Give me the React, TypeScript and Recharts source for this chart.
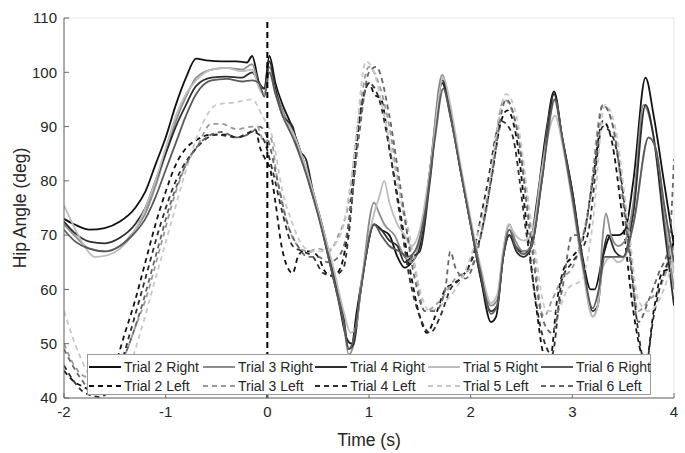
import * as React from "react";
import { CartesianGrid, Line, LineChart, ReferenceLine, XAxis, YAxis } from "recharts";

type Pt = [number, number];

const X_TICKS = [-2, -1, 0, 1, 2, 3, 4];
const Y_TICKS = [40, 50, 60, 70, 80, 90, 100, 110];

// [time (s), hip angle (deg)]
const trial2Right: Pt[] = [
  [-2, 73], [-1.9, 72], [-1.75, 71], [-1.6, 71.3], [-1.45, 72.5], [-1.3, 75], [-1.2, 78], [-1.1, 83], [-1.0, 88],
  [-0.9, 94], [-0.8, 99], [-0.7, 102.5], [-0.6, 102.2], [-0.45, 102], [-0.3, 102], [-0.2, 101.8], [-0.15, 103],
  [-0.08, 98], [-0.03, 97], [0.02, 103], [0.08, 98], [0.15, 94], [0.22, 91], [0.28, 88], [0.35, 84], [0.42, 79],
  [0.5, 74], [0.6, 66], [0.7, 58], [0.78, 51], [0.83, 50], [0.88, 56], [0.95, 64], [1.05, 72], [1.12, 71], [1.2, 70],
  [1.28, 66], [1.35, 64], [1.42, 65], [1.5, 68], [1.6, 82], [1.72, 98], [1.8, 92], [1.9, 82], [2.0, 72], [2.1, 62],
  [2.2, 54], [2.25, 55], [2.32, 66], [2.38, 70], [2.44, 68], [2.5, 67], [2.57, 67], [2.65, 76], [2.75, 90],
  [2.82, 96.5], [2.9, 88], [3.0, 78], [3.1, 66], [3.18, 60], [3.22, 60], [3.3, 66], [3.38, 70], [3.45, 70],
  [3.52, 71], [3.6, 80], [3.72, 99], [3.8, 92], [3.9, 80], [4.0, 68],
];
const trial3Right: Pt[] = [
  [-2, 72], [-1.9, 70], [-1.75, 67.5], [-1.6, 67], [-1.45, 68], [-1.3, 71], [-1.2, 74], [-1.1, 79], [-1.0, 85],
  [-0.9, 91], [-0.8, 95.5], [-0.7, 99], [-0.55, 100.5], [-0.4, 100.8], [-0.25, 100.5], [-0.15, 101.5], [-0.08, 97.5],
  [-0.03, 96], [0.02, 101], [0.08, 97], [0.15, 93], [0.25, 89], [0.35, 84], [0.45, 78], [0.55, 71], [0.65, 63],
  [0.75, 54], [0.8, 48], [0.85, 50], [0.92, 60], [1.05, 76], [1.1, 74], [1.15, 72], [1.25, 70], [1.35, 66],
  [1.42, 65], [1.5, 69], [1.6, 82], [1.72, 99.5], [1.8, 93], [1.9, 82], [2.0, 72], [2.1, 63], [2.2, 57], [2.26, 58],
  [2.32, 67], [2.38, 72], [2.44, 69], [2.52, 67], [2.6, 68], [2.7, 82], [2.82, 95], [2.9, 88], [3.0, 77], [3.1, 65],
  [3.2, 55], [3.25, 57], [3.3, 70], [3.33, 74], [3.38, 70], [3.45, 68], [3.52, 69], [3.6, 76], [3.7, 94], [3.78, 90],
  [3.9, 74], [4.0, 60],
];
const trial4Right: Pt[] = [
  [-2, 72.5], [-1.9, 70.5], [-1.75, 68.8], [-1.6, 68.5], [-1.45, 69.5], [-1.3, 72], [-1.2, 75], [-1.1, 80], [-1.0, 85],
  [-0.9, 90], [-0.8, 94], [-0.7, 97.5], [-0.55, 99], [-0.4, 99.2], [-0.25, 99], [-0.15, 100], [-0.08, 98], [-0.03, 97],
  [0.02, 102], [0.08, 97], [0.15, 92], [0.25, 90], [0.3, 86], [0.38, 84], [0.45, 78], [0.55, 71], [0.65, 63],
  [0.75, 55], [0.8, 49], [0.85, 50], [0.92, 60], [1.05, 72], [1.12, 71], [1.2, 69], [1.28, 68], [1.35, 65],
  [1.42, 66], [1.5, 67], [1.6, 80], [1.72, 98.5], [1.8, 93], [1.9, 82], [2.0, 72], [2.1, 62], [2.2, 56], [2.26, 57],
  [2.32, 66], [2.38, 70], [2.45, 67], [2.52, 66], [2.6, 68], [2.7, 80], [2.82, 96], [2.9, 88], [3.0, 78], [3.1, 65],
  [3.2, 56], [3.25, 57], [3.3, 66], [3.35, 70], [3.42, 67], [3.5, 66], [3.6, 74], [3.72, 94], [3.8, 88], [3.9, 72],
  [4.0, 57],
];
const trial5Right: Pt[] = [
  [-2, 75.5], [-1.9, 71.5], [-1.8, 68], [-1.7, 66], [-1.6, 66.2], [-1.45, 67.5], [-1.3, 71], [-1.2, 75], [-1.1, 80],
  [-1.0, 86], [-0.9, 92], [-0.8, 96], [-0.7, 98.5], [-0.55, 100.5], [-0.4, 100.8], [-0.25, 100.2], [-0.15, 100.5],
  [-0.08, 97], [-0.03, 96], [0.02, 100], [0.08, 96], [0.15, 92], [0.25, 89], [0.35, 84], [0.45, 78], [0.55, 71],
  [0.65, 64], [0.75, 56], [0.82, 52], [0.87, 53], [0.93, 62], [1.05, 74], [1.1, 77], [1.15, 80], [1.2, 76], [1.28, 72],
  [1.35, 70], [1.42, 68], [1.5, 71], [1.6, 82], [1.73, 99], [1.8, 94], [1.9, 83], [2.0, 73], [2.1, 64], [2.2, 57.5],
  [2.26, 59], [2.32, 67], [2.37, 72], [2.44, 70], [2.52, 69], [2.6, 70], [2.7, 82], [2.83, 92], [2.9, 87], [3.0, 76],
  [3.1, 64], [3.2, 55], [3.25, 57], [3.3, 64], [3.38, 66], [3.45, 65], [3.52, 66], [3.62, 74], [3.75, 88], [3.82, 86],
  [3.9, 76], [4.0, 63],
];
const trial6Right: Pt[] = [
  [-2, 71], [-1.9, 69], [-1.75, 67.5], [-1.6, 67], [-1.45, 68], [-1.3, 70.5], [-1.2, 73], [-1.1, 77], [-1.0, 82],
  [-0.9, 87], [-0.8, 92], [-0.7, 96], [-0.55, 98.5], [-0.4, 98.8], [-0.25, 98.3], [-0.15, 98.5], [-0.08, 98],
  [-0.03, 95.5], [0.02, 100], [0.08, 96], [0.15, 92], [0.25, 88], [0.35, 83], [0.45, 77], [0.55, 70], [0.65, 62],
  [0.75, 54], [0.8, 49], [0.85, 51], [0.92, 60], [1.05, 72], [1.12, 70], [1.2, 68], [1.3, 67], [1.38, 66], [1.45, 67],
  [1.55, 74], [1.65, 88], [1.73, 97], [1.8, 92], [1.9, 82], [2.0, 72], [2.1, 63], [2.2, 55.5], [2.26, 57], [2.32, 66],
  [2.38, 71], [2.44, 68], [2.52, 66.5], [2.6, 68], [2.7, 80], [2.83, 95], [2.9, 88], [3.0, 77], [3.1, 65], [3.2, 56.5],
  [3.26, 60], [3.32, 66], [3.4, 66], [3.5, 66], [3.6, 72], [3.75, 88], [3.82, 86], [3.9, 76], [4.0, 65],
];

const trial2Left: Pt[] = [
  [-2, 45], [-1.9, 43], [-1.8, 42], [-1.7, 41], [-1.6, 42.5], [-1.5, 46], [-1.4, 52], [-1.3, 58], [-1.2, 65], [-1.1, 72],
  [-1.0, 78], [-0.9, 83], [-0.8, 86], [-0.7, 87.5], [-0.55, 88.5], [-0.4, 88.5], [-0.3, 88], [-0.2, 88.5], [-0.12, 89.5],
  [-0.07, 86], [-0.02, 84], [0.03, 82], [0.08, 76], [0.14, 68], [0.2, 64], [0.25, 63], [0.3, 66], [0.35, 67], [0.42, 67],
  [0.5, 66], [0.58, 63], [0.65, 62.5], [0.72, 64], [0.8, 72], [0.88, 88], [0.95, 96], [1.0, 98], [1.05, 96], [1.12, 95],
  [1.2, 86], [1.3, 75], [1.4, 64], [1.5, 55], [1.57, 52], [1.65, 55], [1.75, 60], [1.82, 61], [1.9, 62], [2.0, 65],
  [2.1, 70], [2.2, 80], [2.3, 91], [2.36, 93], [2.45, 88], [2.55, 72], [2.65, 56], [2.72, 48], [2.78, 47], [2.85, 58],
  [2.92, 64], [3.0, 66], [3.1, 69], [3.2, 80], [3.3, 91], [3.38, 88], [3.5, 72], [3.6, 56], [3.68, 48], [3.72, 46],
  [3.8, 56], [3.88, 63], [3.95, 64], [4.0, 70],
];
const trial3Left: Pt[] = [
  [-2, 50], [-1.9, 46], [-1.8, 44], [-1.65, 43.5], [-1.5, 45], [-1.4, 48], [-1.3, 53], [-1.2, 58], [-1.05, 68],
  [-0.9, 78], [-0.8, 83], [-0.7, 86], [-0.55, 90.5], [-0.45, 90.5], [-0.3, 89.5], [-0.15, 90], [-0.1, 90], [-0.03, 87],
  [0.03, 88], [0.1, 80], [0.2, 72], [0.3, 68], [0.4, 67], [0.5, 67.5], [0.6, 67], [0.7, 70], [0.8, 76], [0.9, 92],
  [1.0, 101], [1.05, 100], [1.2, 90], [1.3, 78], [1.45, 64], [1.55, 56], [1.7, 58], [1.85, 62], [2.0, 64], [2.15, 74],
  [2.33, 95], [2.45, 90], [2.6, 70], [2.72, 55], [2.8, 58], [2.9, 62], [3.0, 64], [3.15, 74], [3.3, 94], [3.4, 90],
  [3.55, 70], [3.65, 56], [3.75, 58], [3.85, 60], [4.0, 68],
];
const trial4Left: Pt[] = [
  [-2, 46], [-1.9, 43], [-1.8, 41], [-1.65, 40.2], [-1.5, 43], [-1.35, 52], [-1.2, 62], [-1.05, 72], [-0.9, 80],
  [-0.7, 86], [-0.5, 88.5], [-0.3, 88], [-0.15, 89], [-0.05, 88], [0.05, 82], [0.15, 74], [0.25, 68], [0.35, 67],
  [0.45, 66], [0.55, 63], [0.65, 62.5], [0.75, 64], [0.8, 70], [0.9, 90], [1.0, 98], [1.1, 95], [1.2, 86], [1.3, 74],
  [1.4, 62], [1.5, 55], [1.6, 52], [1.7, 55], [1.8, 60], [1.9, 62], [2.0, 65], [2.15, 78], [2.3, 91], [2.4, 89],
  [2.55, 70], [2.7, 52], [2.8, 48], [2.9, 62], [3.0, 65], [3.15, 70], [3.3, 90], [3.4, 88], [3.55, 70], [3.65, 52],
  [3.72, 46], [3.8, 55], [3.9, 63], [4.0, 67],
];
const trial5Left: Pt[] = [
  [-2, 56], [-1.85, 48], [-1.7, 43], [-1.55, 42], [-1.4, 44], [-1.25, 52], [-1.1, 62], [-0.95, 72], [-0.8, 82],
  [-0.65, 90], [-0.5, 94], [-0.3, 94.5], [-0.15, 95], [-0.05, 92], [0.05, 88], [0.15, 78], [0.25, 72], [0.35, 68],
  [0.45, 67], [0.55, 67], [0.65, 68], [0.75, 72], [0.85, 84], [0.97, 102], [1.05, 100], [1.15, 92], [1.3, 78],
  [1.4, 70], [1.5, 60], [1.6, 56], [1.7, 57], [1.85, 60], [2.0, 66], [2.15, 76], [2.35, 96], [2.45, 92], [2.6, 72],
  [2.75, 56], [2.85, 56], [2.95, 60], [3.1, 62], [3.2, 72], [3.32, 94], [3.42, 90], [3.55, 72], [3.65, 58], [3.75, 56],
  [3.9, 60], [4.0, 66],
];
const trial6Left: Pt[] = [
  [-2, 49], [-1.85, 44], [-1.7, 41], [-1.55, 43], [-1.4, 48], [-1.25, 56], [-1.1, 66], [-0.95, 76], [-0.8, 83],
  [-0.6, 88], [-0.45, 89], [-0.3, 88], [-0.15, 89], [-0.08, 90], [0, 88], [0.1, 80], [0.2, 72], [0.3, 68], [0.4, 66],
  [0.5, 66], [0.6, 65], [0.7, 66], [0.8, 72], [0.9, 88], [1.0, 100], [1.07, 101], [1.2, 92], [1.3, 80], [1.45, 62],
  [1.55, 56], [1.65, 56], [1.75, 60], [1.8, 67], [1.85, 64], [1.95, 62], [2.05, 66], [2.2, 80], [2.35, 95], [2.45, 90],
  [2.6, 68], [2.7, 55], [2.8, 52], [2.9, 60], [3.0, 70], [3.1, 70], [3.2, 80], [3.3, 94], [3.4, 90], [3.55, 68],
  [3.65, 54], [3.75, 58], [3.85, 63], [3.95, 68], [4.0, 84],
];

const SERIES = [
  { name: "Trial 2 Right", pts: trial2Right, color: "#111111", dashed: false },
  { name: "Trial 2 Left", pts: trial2Left, color: "#111111", dashed: true },
  { name: "Trial 3 Right", pts: trial3Right, color: "#8c8c8c", dashed: false },
  { name: "Trial 3 Left", pts: trial3Left, color: "#9a9a9a", dashed: true },
  { name: "Trial 4 Right", pts: trial4Right, color: "#2e2e2e", dashed: false },
  { name: "Trial 4 Left", pts: trial4Left, color: "#2e2e2e", dashed: true },
  { name: "Trial 5 Right", pts: trial5Right, color: "#bdbdbd", dashed: false },
  { name: "Trial 5 Left", pts: trial5Left, color: "#c8c8c8", dashed: true },
  { name: "Trial 6 Right", pts: trial6Right, color: "#5a5a5a", dashed: false },
  { name: "Trial 6 Left", pts: trial6Left, color: "#666666", dashed: true },
];

const FONT = "'Liberation Sans', Arial, Helvetica, sans-serif";
const TXT = "#262626";
const FRAME = "#666";
const DASH = "5 4";
const noLabel = () => <g />;

function LegendBox() {
  // 5 columns x 2 rows, right trials on top, left trials below
  const cols = [0, 1, 2, 3, 4];
  const colX = [88, 202, 314, 427, 540];
  return (
    <div
      style={{
        position: "absolute", left: 87, top: 354, width: 564, height: 41,
        background: "#fff", border: "1px solid #9a9a9a", boxSizing: "border-box",
        fontFamily: FONT, fontSize: 14, color: TXT,
      }}
    >
      {cols.map((c) =>
        [0, 1].map((r) => {
          const s = SERIES[c * 2 + r];
          return (
            <div
              key={s.name}
              style={{ position: "absolute", left: colX[c] - 88, top: 3 + r * 19, height: 18, display: "flex", alignItems: "center", whiteSpace: "nowrap" }}
            >
              <svg width={34} height={6} style={{ marginRight: 2 }}>
                <line x1={1} y1={3} x2={33} y2={3} stroke={s.color} strokeWidth={2} strokeDasharray={s.dashed ? DASH : undefined} />
              </svg>
              <span>{s.name}</span>
            </div>
          );
        })
      )}
    </div>
  );
}

export default function App() {
  return (
    <div style={{ position: "fixed", left: 0, top: 0, width: 685, height: 453, background: "#fff" }}>
      <LineChart width={685} height={453} margin={{ top: 18, right: 11, bottom: 0, left: 0 }} style={{ fontFamily: FONT }}>
        <CartesianGrid stroke="#e6e6e6" strokeWidth={1} />
        <XAxis
          xAxisId="b" type="number" dataKey="t" domain={[-2, 4]} ticks={X_TICKS} allowDataOverflow
          height={55} stroke={FRAME} tickSize={-5} tickMargin={13}
          tick={{ fill: TXT, fontSize: 15 }}
          label={{ value: "Time (s)", position: "insideBottom", offset: 7, fill: TXT, fontSize: 17.5 }}
        />
        <XAxis
          xAxisId="top" orientation="top" type="number" dataKey="t" domain={[-2, 4]} ticks={X_TICKS}
          allowDataOverflow height={0} stroke={FRAME} tickSize={-5} tick={noLabel}
        />
        <YAxis
          yAxisId="l" type="number" domain={[40, 110]} ticks={Y_TICKS} allowDataOverflow
          width={64} stroke={FRAME} tickSize={-5} tickMargin={12}
          tick={{ fill: TXT, fontSize: 15 }}
          label={{ value: "Hip Angle (deg)", angle: -90, position: "insideLeft", offset: 20, fill: TXT, fontSize: 17.5, style: { textAnchor: "middle" } }}
        />
        <YAxis
          yAxisId="r" orientation="right" type="number" domain={[40, 110]} ticks={Y_TICKS}
          allowDataOverflow width={0} stroke={FRAME} tickSize={-5} tick={noLabel}
        />
        {SERIES.map((s) => (
          <Line
            key={s.name}
            xAxisId="b"
            yAxisId="l"
            data={s.pts.map(([t, v]) => ({ t, v }))}
            dataKey="v"
            name={s.name}
            type="monotone"
            stroke={s.color}
            strokeWidth={1.8}
            strokeDasharray={s.dashed ? DASH : undefined}
            dot={false}
            activeDot={false}
            isAnimationActive={false}
          />
        ))}
        <ReferenceLine xAxisId="b" yAxisId="l" x={0} stroke="#000" strokeWidth={2} strokeDasharray="6 4" />
      </LineChart>
      <LegendBox />
    </div>
  );
}
